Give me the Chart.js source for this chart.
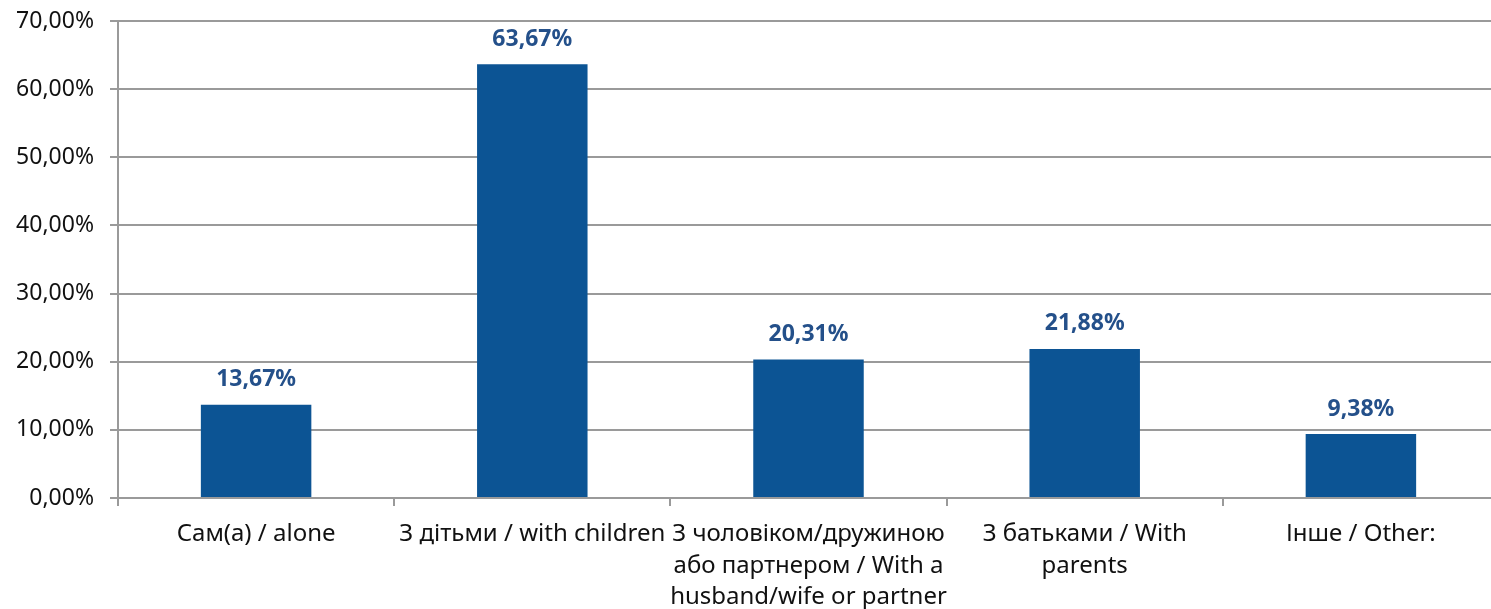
<!DOCTYPE html>
<html>
<head>
<meta charset="utf-8">
<script src="https://cdn.jsdelivr.net/npm/chart.js@4"></script>
<style>
  html, body { margin: 0; padding: 0; background: #fff; overflow: hidden; }
  #wrap { position: relative; width: 1499px; height: 609px; }
</style>
</head>
<body>
<div id="wrap"><canvas id="chart"></canvas></div>
<script>
// Data
const categories = [
  "Сам(а) / alone",
  "З дітьми / with children",
  ["З чоловіком/дружиною", "або партнером / With a", "husband/wife or partner"],
  ["З батьками / With", "parents"],
  "Інше / Other:",
];
const shares = [13.67, 63.67, 20.31, 21.88, 9.38];
const yTicks = [0, 10, 20, 30, 40, 50, 60, 70];

const FONT = "'Noto Sans', 'Open Sans', sans-serif";
const fmt = (v, d) => v.toFixed(d).replace(".", ",") + "%";

// Value labels above bars
const valueLabels = {
  id: "valueLabels",
  afterDatasetsDraw(chart) {
    const { ctx } = chart;
    const meta = chart.getDatasetMeta(0);
    ctx.save();
    ctx.font = "bold 23px " + FONT;
    ctx.fillStyle = "#24508a";
    ctx.textAlign = "center";
    ctx.textBaseline = "middle";
    meta.data.forEach((bar, i) => {
      ctx.fillText(fmt(shares[i], 2), bar.x, bar.y - 25);
    });
    ctx.restore();
  },
};

new Chart(document.getElementById("chart"), {
  type: "bar",
  data: {
    labels: categories,
    datasets: [{
      data: shares,
      backgroundColor: "#0c5494",
      borderWidth: 0,
      categoryPercentage: 1,
      barPercentage: 0.4,
    }],
  },
  options: {
    responsive: true,
    maintainAspectRatio: false,
    animation: false,
    layout: { padding: { top: 21, left: 0, right: 0, bottom: 0 } },
    plugins: { legend: { display: false }, tooltip: { enabled: false } },
    scales: {
      x: {
        afterFit: (s) => { s.height = 111; s.paddingLeft = 0; s.paddingRight = 0; },
        grid: { drawOnChartArea: false, drawTicks: true, tickLength: 8, color: "#9a9a9a", lineWidth: 2 },
        border: { color: "#9a9a9a", width: 2 },
        ticks: {
          color: "#111",
          font: { family: FONT, size: 24, lineHeight: 1.3 },
          padding: 13,
          maxRotation: 0,
          autoSkip: false,
        },
      },
      y: {
        min: 0,
        max: 70,
        afterFit: (s) => { s.width = 118; s.paddingTop = 0; s.paddingBottom = 0; },
        afterBuildTicks: (s) => { s.ticks = yTicks.map((v) => ({ value: v })); },
        grid: { color: "#9a9a9a", lineWidth: 2, tickLength: 8 },
        border: { color: "#9a9a9a", width: 2 },
        ticks: {
          color: "#111",
          font: { family: FONT, size: 23 },
          padding: 16,
          callback: (v) => fmt(v, 2),
        },
      },
    },
  },
  plugins: [valueLabels],
});
</script>
</body>
</html>
